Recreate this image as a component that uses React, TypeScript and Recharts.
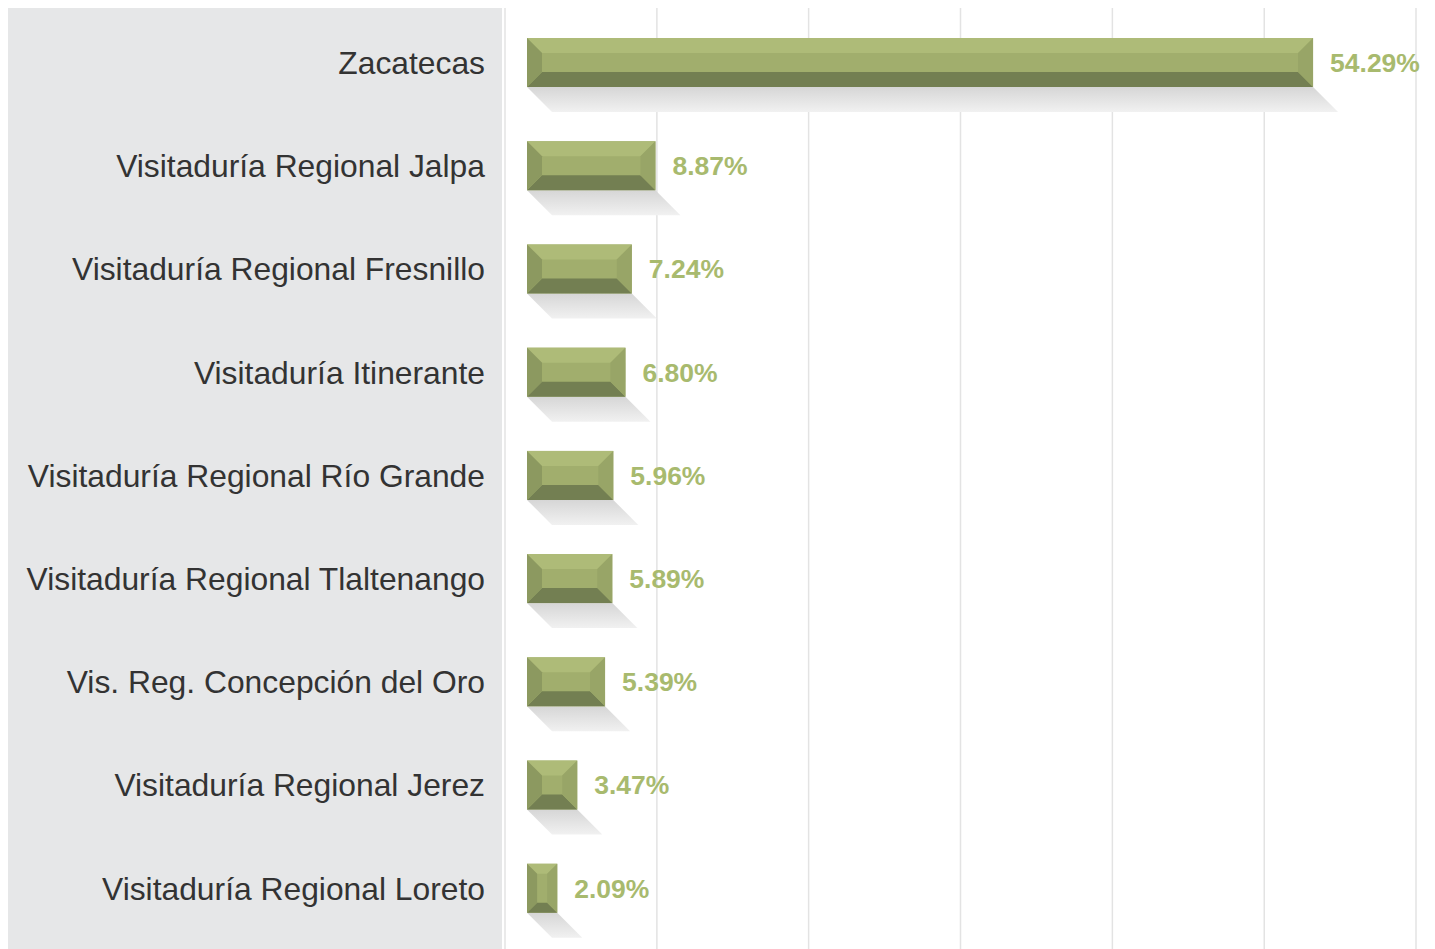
import { BarChart, Bar, XAxis, YAxis, CartesianGrid, LabelList } from 'recharts';

const categories = [
  'Zacatecas',
  'Visitaduría Regional Jalpa',
  'Visitaduría Regional Fresnillo',
  'Visitaduría Itinerante',
  'Visitaduría Regional Río Grande',
  'Visitaduría Regional Tlaltenango',
  'Vis. Reg. Concepción del Oro',
  'Visitaduría Regional Jerez',
  'Visitaduría Regional Loreto',
];

const percentages = [54.29, 8.87, 7.24, 6.8, 5.96, 5.89, 5.39, 3.47, 2.09];

// gridline positions on the (hidden) value axis
const gridTicks = [-1.52, 8.97, 19.45, 29.94, 40.43, 50.92, 61.4];

const data = categories.map((name, i) => ({ name, value: percentages[i] }));

const FONT = '"Liberation Sans", Arial, Helvetica, sans-serif';

function BevelBar(props: any) {
  const { x, y, width: w, height: h } = props;
  if (!w || !h) return null;
  const b = Math.min(15, w / 3, h / 3);
  const s = 25;
  return (
    <g>
      <polygon
        points={`${x},${y + h} ${x + w},${y + h} ${x + w + s},${y + h + s} ${x + s},${y + h + s}`}
        fill="url(#shadowGrad)"
      />
      <rect x={x} y={y} width={w} height={h} fill="#a1ae6d" />
      <polygon points={`${x},${y} ${x + w},${y} ${x + w - b},${y + b} ${x + b},${y + b}`} fill="#aebb78" />
      <polygon
        points={`${x},${y + h} ${x + w},${y + h} ${x + w - b},${y + h - b} ${x + b},${y + h - b}`}
        fill="#737f52"
      />
      <polygon points={`${x},${y} ${x + b},${y + b} ${x + b},${y + h - b} ${x},${y + h}`} fill="#8c9960" />
      <polygon
        points={`${x + w},${y} ${x + w - b},${y + b} ${x + w - b},${y + h - b} ${x + w},${y + h}`}
        fill="#98a567"
      />
    </g>
  );
}

export default function App() {
  return (
    <div style={{ position: 'relative', width: 1427, height: 945, marginTop: -4 }}>
      <div
        style={{ position: 'absolute', left: 0, top: 0, width: 494, height: 945, background: '#e6e7e8' }}
      />
      <div style={{ position: 'absolute', left: 0, top: 0 }}>
        <BarChart
          width={1427}
          height={945}
          data={data}
          layout="vertical"
          margin={{ top: 3, right: 19, bottom: 0, left: 0 }}
          barCategoryGap={0}
        >
          <defs>
            <linearGradient id="shadowGrad" x1="0" y1="0" x2="0" y2="1">
              <stop offset="0%" stopColor="#d6d6d6" />
              <stop offset="100%" stopColor="#f1f1f1" />
            </linearGradient>
          </defs>
          <CartesianGrid
            stroke="#e3e3e3"
            strokeWidth={1.5}
            horizontalCoordinatesGenerator={({ offset }: any) => [offset.top]}
          />
          <XAxis type="number" domain={[gridTicks[0], gridTicks[gridTicks.length - 1]]} ticks={gridTicks} hide />
          <YAxis
            type="category"
            dataKey="name"
            width={497}
            axisLine={false}
            tickLine={false}
            tickSize={0}
            tickMargin={20}
            padding={{ top: 4, bottom: 9 }}
            tick={{ fill: '#333333', fontSize: 31.8, fontFamily: FONT }}
            interval={0}
          />
          <Bar dataKey="value" barSize={49} shape={<BevelBar />} isAnimationActive={false}>
            <LabelList
              dataKey="value"
              position="right"
              offset={17}
              formatter={(v: any) => `${Number(v).toFixed(2)}%`}
              style={{ fill: '#a8ba6e', fontSize: 26.5, fontWeight: 'bold', fontFamily: FONT }}
            />
          </Bar>
        </BarChart>
      </div>
    </div>
  );
}
